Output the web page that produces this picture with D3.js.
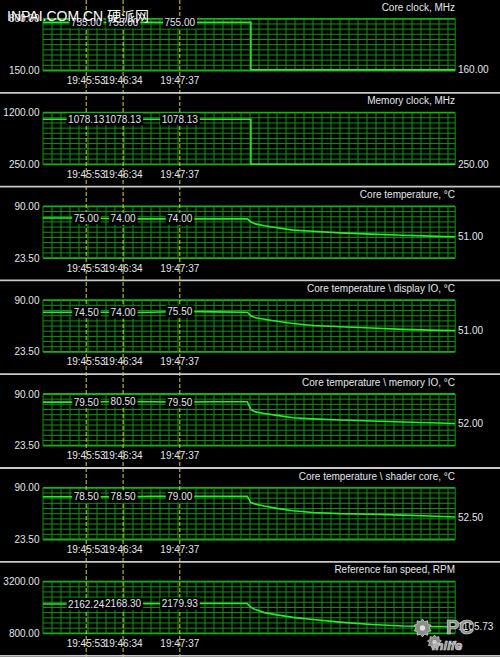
<!DOCTYPE html>
<html>
<head>
	<meta charset="UTF-8">
	<meta name="viewport" content="width=device-width, initial-scale=1.0">
	<title>GPU sensor log</title>
	<style>
html, body {
	margin:0;padding:0;
	background: #000;
}
svg {display: block;}
text {
	font-family: "Liberation Sans", Arial, sans-serif;
	font-size: 10px;
	fill: #e2e6ec;
}
.wm {
	font-family: "Liberation Sans", "Noto Sans CJK SC", sans-serif;
	font-size: 14px;
	fill: #fff;
}
.logo {font-weight: bold; fill: #8e8e8e; stroke: #d8d8d8; stroke-width: 0.7px;}
	</style>
	<script src="https://cdnjs.cloudflare.com/ajax/libs/d3/7.8.5/d3.min.js"></script>
</head>
<body>
	<script>
const TIMES = ['19:45:05', '19:45:29', '19:45:53', '19:46:15', '19:46:34', '19:47:05', '19:47:37', '19:48:15', '19:48:52', '19:48:56',
	'19:49:01', '19:49:11', '19:49:25', '19:49:43', '19:50:05', '19:50:35', '19:51:10', '19:51:45', '19:52:15', '19:52:43'];
const CURSOR_TIMES = ['19:45:53', '19:46:34', '19:47:37'];

const TITLES = ['Core clock, MHz', 'Memory clock, MHz', 'Core temperature, °C', 'Core temperature \\ display IO, °C',
	'Core temperature \\ memory IO, °C', 'Core temperature \\ shader core, °C', 'Reference fan speed, RPM'];
const Y_MIN = [150, 250, 23.5, 23.5, 23.5, 23.5, 800];
const Y_MAX = [800, 1200, 90, 90, 90, 90, 3200];
const STEPPED = [true, true, false, false, false, false, false];

const CORE_CLOCK = [755, 755, 755, 755, 755, 755, 755, 755, 755, 160, 160, 160, 160, 160, 160, 160, 160, 160, 160, 160];
const MEMORY_CLOCK = [1078.13, 1078.13, 1078.13, 1078.13, 1078.13, 1078.13, 1078.13, 1078.13, 1078.13, 250, 250, 250, 250, 250, 250, 250, 250, 250, 250, 250];
const CORE_TEMP = [75, 75, 75, 74.5, 74, 74, 74, 74, 74, 70, 67.5, 65, 62.5, 59.5, 58, 56, 54.3, 52.8, 51.8, 51];
const DISPLAY_IO = [74.5, 74.5, 74.5, 74.5, 74, 74.5, 75.5, 75, 74.5, 70, 67.5, 65.5, 63, 60, 57.5, 55.8, 54.3, 52.5, 51.5, 51];
const MEMORY_IO = [79.5, 79.5, 79.5, 80, 80.5, 80, 79.5, 80, 80, 70, 67, 65, 62.5, 59.5, 58, 56.5, 55.3, 54, 53, 52];
const SHADER_CORE = [78.5, 78.5, 78.5, 78.5, 78.5, 79, 79, 79, 79, 71, 69, 66.5, 63.5, 60.5, 58.3, 56.8, 56, 54.8, 53.7, 52.5];
const FAN_SPEED = [2160, 2160, 2162.24, 2165, 2168.30, 2175, 2179.93, 2180, 2180, 2010, 1900, 1760, 1654, 1540, 1440, 1320, 1210, 1140, 1115, 1105.73];

const SERIES = [CORE_CLOCK, MEMORY_CLOCK, CORE_TEMP, DISPLAY_IO, MEMORY_IO, SHADER_CORE, FAN_SPEED];

const W = 500, H = 657, PANEL_H = 93.8;
const GRID_TOP = 19.8, GRID_BOTTOM = 71.5;
const fmt = d3.format('.2f');
const parse = d3.timeParse('%H:%M:%S');
const times = TIMES.map(parse);

const svg = d3.select(document.body).append('svg').attr('width', W).attr('height', H);
svg.append('rect').attr('width', W).attr('height', H).attr('fill', '#000');

const x = d3.scaleTime().domain(d3.extent(times)).range([43, 455.2]);
const gridTimes = d3.timeSecond.range(times[0], times[times.length - 1], 10);

const gridLayer = svg.append('g');
const cursorLayer = svg.append('g');
const sepLayer = svg.append('g');
const labelLayer = svg.append('g');

SERIES.forEach((values, i) => {
	const top = -1 + i * PANEL_H;
	const y = d3.scaleLinear().domain([Y_MIN[i], Y_MAX[i]]).range([GRID_BOTTOM, GRID_TOP]);
	const g = gridLayer.append('g').attr('transform', `translate(0,${top})`);
	const lg = labelLayer.append('g').attr('transform', `translate(0,${top})`);
	const span = Y_MAX[i] - Y_MIN[i];

	// grid
	g.selectAll('line.h').data(d3.range(11)).enter().append('line')
		.attr('x1', x.range()[0]).attr('x2', x.range()[1])
		.attr('y1', k => y(Y_MIN[i] + k * span / 10)).attr('y2', k => y(Y_MIN[i] + k * span / 10))
		.attr('stroke', k => (k === 0 || k === 10) ? '#12b412' : '#0a980a')
		.attr('stroke-width', k => (k === 0 || k === 10) ? 1.8 : 1);
	g.selectAll('line.v').data(gridTimes.concat([times[times.length - 1]])).enter().append('line')
		.attr('x1', d => x(d)).attr('x2', d => x(d))
		.attr('y1', GRID_TOP).attr('y2', GRID_BOTTOM)
		.attr('stroke', '#0a980a').attr('stroke-width', 1);

	// series
	const data = times.map((t, k) => ({t, v: values[k]}));
	g.append('path').datum(data)
		.attr('fill', 'none')
		.attr('stroke', '#28ec28')
		.attr('stroke-width', 1.6)
		.attr('d', d3.line().x(d => x(d.t)).y(d => y(d.v)).curve(STEPPED[i] ? d3.curveStepAfter : d3.curveLinear));

	// title, axis values
	lg.append('text').attr('x', 455).attr('y', 11.5).attr('text-anchor', 'end').text(TITLES[i]);
	lg.append('text').attr('x', 39.5).attr('y', GRID_TOP + 3.6).attr('text-anchor', 'end').text(fmt(Y_MAX[i]));
	lg.append('text').attr('x', 39.5).attr('y', GRID_BOTTOM + 3.6).attr('text-anchor', 'end').text(fmt(Y_MIN[i]));
	lg.append('text').attr('x', 458).attr('y', y(values[values.length - 1]) + 3.6).text(fmt(values[values.length - 1]));

	// cursor values and times
	CURSOR_TIMES.forEach(c => {
		const k = TIMES.indexOf(c);
		const cx = x(times[k]), cy = y(values[k]);
		const t = lg.append('text').attr('x', cx).attr('y', cy + 3.6).attr('text-anchor', 'middle').text(fmt(values[k]));
		const b = t.node().getBBox();
		lg.insert('rect', 'text').attr('x', b.x - 1.5).attr('y', cy - 6).attr('width', b.width + 3).attr('height', 12).attr('fill', '#000');
		lg.append('text').attr('x', cx).attr('y', 85).attr('text-anchor', 'middle').text(c);
	});

	if (i > 0) {
		sepLayer.append('line').attr('x1', 0).attr('x2', W).attr('y1', top).attr('y2', top)
			.attr('stroke', '#c8c8c8').attr('stroke-width', 1.8);
	}
});
sepLayer.append('line').attr('x1', 0).attr('x2', W).attr('y1', 655.8).attr('y2', 655.8)
	.attr('stroke', '#c8c8c8').attr('stroke-width', 1.8);

// cursors
cursorLayer.selectAll('line').data(CURSOR_TIMES.map(parse)).enter().append('line')
	.attr('x1', d => x(d)).attr('x2', d => x(d))
	.attr('y1', 0).attr('y2', H)
	.attr('stroke', '#d8d818').attr('stroke-width', 1).attr('stroke-dasharray', '4,2');

// watermark
labelLayer.append('text').attr('class', 'wm').attr('x', 7).attr('y', 20.5).text('INPAI.COM.CN 硬派网');

// logo at bottom right
const gear = (cx, cy, r, teeth) => {
	const pts = d3.range(teeth * 2).map(k => [k * Math.PI / teeth, k % 2 ? r * 0.72 : r]);
	svg.append('path').attr('transform', `translate(${cx},${cy})`)
		.attr('d', d3.lineRadial().curve(d3.curveLinearClosed)(pts))
		.attr('fill', '#8c8c8c').attr('stroke', '#d0d0d0').attr('stroke-width', 0.8);
	svg.append('circle').attr('cx', cx).attr('cy', cy).attr('r', r * 0.3).attr('fill', '#e0e0e0');
};
gear(422.5, 628, 9, 10);
gear(434.5, 642, 7, 9);
svg.append('text').attr('class', 'logo').attr('x', 446).attr('y', 634).style('font-size', '20px').text('PC');
svg.append('text').attr('class', 'logo').attr('x', 432).attr('y', 650).style('font-size', '13px').style('font-style', 'italic').text('inlife');
	</script>
</body>
</html>
